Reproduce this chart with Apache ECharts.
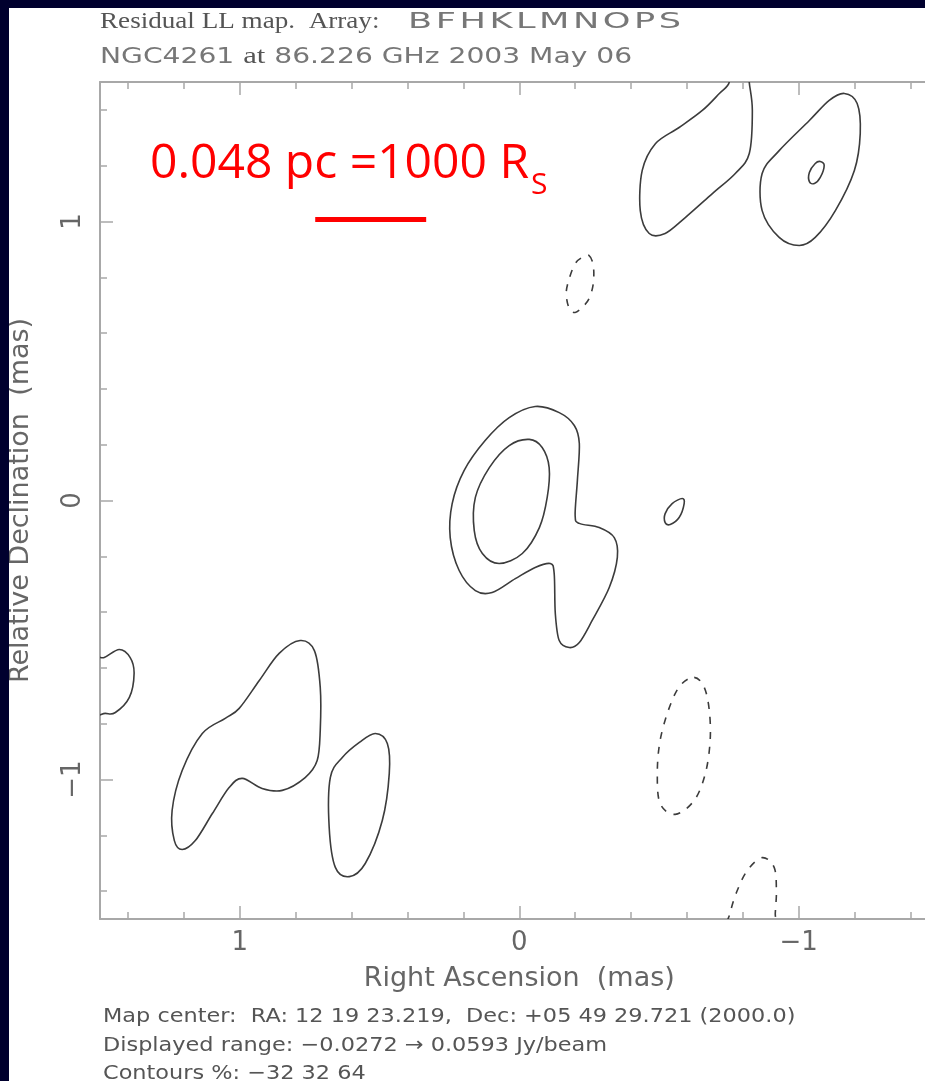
<!DOCTYPE html>
<html><head><meta charset="utf-8">
<script src="https://cdn.jsdelivr.net/npm/echarts@6/dist/echarts.min.js"></script>
<style>html,body{margin:0;padding:0;background:#fff;overflow:hidden}#c{width:925px;height:1081px}</style>
</head><body><div id="c"></div>
<script>
// ---- data (mas): relative RA (x), relative Dec (y) ----
const xRange = [-1.5, 1.5];
const yRange = [-1.5, 1.5];
const minorStep = 0.2;

// positive contours (solid)
const posCoreOuter = [[-0.057,0.337],[-0.143,0.315],[-0.197,0.269],[-0.215,0.204],[-0.208,0.072],[-0.200,-0.054],[-0.215,-0.082],[-0.286,-0.097],[-0.340,-0.133],[-0.351,-0.204],[-0.322,-0.312],[-0.261,-0.430],[-0.215,-0.509],[-0.179,-0.527],[-0.143,-0.502],[-0.129,-0.405],[-0.125,-0.262],[-0.111,-0.226],[-0.057,-0.240],[0.014,-0.280],[0.097,-0.330],[0.157,-0.323],[0.215,-0.251],[0.247,-0.133],[0.240,-0.011],[0.197,0.108],[0.122,0.215],[0.036,0.297]];
const posCoreInner = [[-0.036,0.219],[-0.082,0.190],[-0.107,0.118],[-0.100,0.011],[-0.072,-0.097],[-0.011,-0.190],[0.072,-0.226],[0.132,-0.190],[0.161,-0.108],[0.157,0.011],[0.107,0.118],[0.036,0.197]];
const posKnotWest = [[-0.583,0.007],[-0.590,-0.011],[-0.572,-0.061],[-0.540,-0.086],[-0.522,-0.079],[-0.522,-0.047],[-0.547,-0.011]];
const posEdgeEast = [[1.530,-0.573],[1.485,-0.563],[1.431,-0.534],[1.392,-0.563],[1.378,-0.620],[1.395,-0.706],[1.445,-0.760],[1.481,-0.763],[1.530,-0.756]];
const posSouthEastBlob = [[0.784,-0.502],[0.733,-0.538],[0.712,-0.670],[0.712,-0.824],[0.723,-0.932],[0.766,-0.993],[0.848,-1.039],[0.920,-1.032],[0.991,-0.996],[1.038,-1.029],[1.098,-1.122],[1.159,-1.219],[1.206,-1.251],[1.234,-1.219],[1.242,-1.111],[1.206,-0.968],[1.134,-0.835],[1.052,-0.781],[1.002,-0.745],[0.930,-0.645],[0.859,-0.548]];
const posSouthOval = [[0.515,-0.835],[0.472,-0.871],[0.465,-0.978],[0.490,-1.147],[0.551,-1.301],[0.608,-1.348],[0.658,-1.315],[0.680,-1.172],[0.676,-0.993],[0.633,-0.921],[0.572,-0.867]];
const posNorthWestA = [[-0.741,1.560],[-0.751,1.498],[-0.716,1.459],[-0.655,1.398],[-0.572,1.337],[-0.487,1.279],[-0.440,1.183],[-0.433,1.039],[-0.465,0.957],[-0.522,0.957],[-0.594,1.014],[-0.691,1.100],[-0.773,1.172],[-0.823,1.244],[-0.834,1.398],[-0.823,1.498],[-0.819,1.560]];
const posNorthWestB = [[-1.163,1.459],[-1.209,1.423],[-1.220,1.315],[-1.199,1.183],[-1.131,1.039],[-1.059,0.943],[-1.002,0.914],[-0.930,0.943],[-0.869,1.039],[-0.869,1.172],[-0.930,1.254],[-1.038,1.362],[-1.109,1.434]];
const posNorthWestPeak = [[-1.077,1.215],[-1.091,1.201],[-1.077,1.158],[-1.056,1.136],[-1.038,1.143],[-1.038,1.176],[-1.059,1.208]];

// negative contours (dashed)
const negNorthSmall = [[-0.250,0.878],[-0.265,0.842],[-0.265,0.778],[-0.250,0.724],[-0.225,0.692],[-0.200,0.674],[-0.179,0.688],[-0.168,0.742],[-0.179,0.796],[-0.200,0.849],[-0.225,0.871]];
const negWestOval = [[-0.626,-0.634],[-0.662,-0.670],[-0.680,-0.753],[-0.683,-0.860],[-0.666,-0.978],[-0.626,-1.075],[-0.558,-1.125],[-0.504,-1.086],[-0.494,-0.978],[-0.504,-0.860],[-0.537,-0.742],[-0.576,-0.663]];
const negSouthEdge = [[-0.744,-1.560],[-0.755,-1.477],[-0.780,-1.398],[-0.816,-1.326],[-0.869,-1.280],[-0.912,-1.315],[-0.920,-1.398],[-0.916,-1.480],[-0.912,-1.560]];

// scale bar (0.048 pc = 1000 Rs)
const scaleBarX = [0.730, 0.333];
const scaleBarY = 1.007;

// texts
const titleLine1a = 'Residual LL map.  Array:';
const titleLine1b = 'BFHKLMNOPS';
const titleLine2 = ['NGC4261 ', 'at', ' 86.226 GHz 2003 May 06'];
const footerLines = [
  'Map center:  RA: 12 19 23.219,  Dec: +05 49 29.721 (2000.0)',
  'Displayed range: \u22120.0272 \u2192 0.0593 Jy/beam',
  'Contours %: \u221232 32 64'
];
const scaleText = '0.048 pc =1000 R';
const scaleSub = 'S';

// ---- chart ----
const PX = 279.5, PY = 279;        // px per mas
const L = 100, T = 82;
const W = (xRange[1]-xRange[0])*PX, H = (yRange[1]-yRange[0])*PY;
const minorMax = 1.4, majorMax = 1;

const axisGray = '#a8a8a8';
const inkGray = '#3c3c3c';
const textGray = '#666';

function fmt(v){ return v === 0 ? '0' : (v < 0 ? '\u2212' + Math.abs(v) : String(v)); }

const grids = [
  {left:L, top:T, width:W, height:H},
  {left:L + (xRange[1]-minorMax)*PX, top:T, width:2*minorMax*PX, height:H},
  {left:L + (xRange[1]-majorMax)*PX, top:T, width:2*majorMax*PX, height:H},
  {left:L, top:T + (yRange[1]-minorMax)*PY, width:W, height:2*minorMax*PY},
  {left:L, top:T + (yRange[1]-majorMax)*PY, width:W, height:2*majorMax*PY}
].map(g => Object.assign({containLabel:false, outerBoundsMode:'none', show:false}, g));

const hidden = {show:false, min:0, max:1, type:'value'};
const frame = (pos) => ({axisLine:{show:true, onZero:false, lineStyle:{color:axisGray, width:2}}, axisTick:{show:false}, axisLabel:{show:false}, splitLine:{show:false}, position:pos});
const ticks = (pos, len, showLabel, extra) => Object.assign({
  position:pos, axisLine:{show:false}, splitLine:{show:false},
  axisTick:{show:true, inside:true, length:len, lineStyle:{color:axisGray, width:1.5}},
  axisLabel:{show:showLabel}
}, extra || {});

const labelStyle = {color:textGray, fontSize:26, fontFamily:'DejaVu Sans', formatter:fmt};

const xAxes = [
  Object.assign({type:'value', gridIndex:0, min:xRange[0], max:xRange[1], inverse:true,
    name:'Right Ascension  (mas)', nameLocation:'middle', nameGap:46,
    nameTextStyle:{color:textGray, fontSize:27, fontFamily:'DejaVu Sans', verticalAlign:'top'}}, frame('bottom')),
  Object.assign({type:'value', gridIndex:0, min:xRange[0], max:xRange[1], inverse:true}, frame('top')),
  ticks('bottom', 7, false, {type:'value', gridIndex:1, min:-minorMax, max:minorMax, interval:minorStep, inverse:true}),
  ticks('top', 7, false, {type:'value', gridIndex:1, min:-minorMax, max:minorMax, interval:minorStep, inverse:true}),
  ticks('bottom', 13, true, {type:'value', gridIndex:2, min:-majorMax, max:majorMax, interval:1, inverse:true, axisLabel:Object.assign({show:true, margin:11}, labelStyle)}),
  ticks('top', 13, false, {type:'value', gridIndex:2, min:-majorMax, max:majorMax, interval:1, inverse:true}),
  Object.assign({gridIndex:3}, hidden),
  Object.assign({gridIndex:4}, hidden)
];
const yAxes = [
  Object.assign({type:'value', gridIndex:0, min:yRange[0], max:yRange[1],
    name:'Relative Declination  (mas)', nameLocation:'middle', nameGap:66,
    nameTextStyle:{color:textGray, fontSize:27, fontFamily:'DejaVu Sans'}}, frame('left')),
  Object.assign({type:'value', gridIndex:0, min:yRange[0], max:yRange[1]}, frame('right')),
  Object.assign({gridIndex:1}, hidden),
  Object.assign({gridIndex:2}, hidden),
  ticks('left', 7, false, {type:'value', gridIndex:3, min:-minorMax, max:minorMax, interval:minorStep}),
  ticks('right', 7, false, {type:'value', gridIndex:3, min:-minorMax, max:minorMax, interval:minorStep}),
  ticks('left', 13, true, {type:'value', gridIndex:4, min:-majorMax, max:majorMax, interval:1, axisLabel:Object.assign({show:true, margin:14, rotate:90}, labelStyle)}),
  ticks('right', 13, false, {type:'value', gridIndex:4, min:-majorMax, max:majorMax, interval:1})
];

// closed smooth curve (Catmull-Rom -> cubic Bezier) through the pixel positions of the data points
function closedPath(px) {
  const n = px.length;
  let d = 'M' + px[0][0].toFixed(2) + ' ' + px[0][1].toFixed(2);
  for (let i = 0; i < n; i++) {
    const p0 = px[(i - 1 + n) % n], p1 = px[i], p2 = px[(i + 1) % n], p3 = px[(i + 2) % n];
    const c1 = [p1[0] + (p2[0] - p0[0]) / 6, p1[1] + (p2[1] - p0[1]) / 6];
    const c2 = [p2[0] - (p3[0] - p1[0]) / 6, p2[1] - (p3[1] - p1[1]) / 6];
    d += ' C' + c1[0].toFixed(2) + ' ' + c1[1].toFixed(2) + ' ' + c2[0].toFixed(2) + ' ' + c2[1].toFixed(2) + ' ' + p2[0].toFixed(2) + ' ' + p2[1].toFixed(2);
  }
  return d + ' Z';
}

function contour(name, pts, dashed) {
  return {
    type:'custom', name, coordinateSystem:'cartesian2d', xAxisIndex:0, yAxisIndex:0,
    data: pts, silent:true, animation:false,
    renderItem: function (params, api) {
      if (params.dataIndex !== 0) return null;
      const px = pts.map(p => api.coord(p));
      const cs = params.coordSys;
      return {
        type:'path',
        shape:{pathData: closedPath(px)},
        style:{fill:'none', stroke:inkGray, lineWidth:1.6, lineDash: dashed ? [7, 8] : null},
        clipPath:{type:'rect', shape:{x:cs.x, y:cs.y, width:cs.width, height:cs.height}}
      };
    }
  };
}

const series = [
  contour('posCoreOuter', posCoreOuter),
  contour('posCoreInner', posCoreInner),
  contour('posKnotWest', posKnotWest),
  contour('posEdgeEast', posEdgeEast),
  contour('posSouthEastBlob', posSouthEastBlob),
  contour('posSouthOval', posSouthOval),
  contour('posNorthWestA', posNorthWestA),
  contour('posNorthWestB', posNorthWestB),
  contour('posNorthWestPeak', posNorthWestPeak),
  contour('negNorthSmall', negNorthSmall, true),
  contour('negWestOval', negWestOval, true),
  contour('negSouthEdge', negSouthEdge, true),
  {type:'line', name:'scaleBar', xAxisIndex:0, yAxisIndex:0, symbol:'none', silent:true, animation:false,
   data: scaleBarX.map(x => [x, scaleBarY]), lineStyle:{color:'#ff0000', width:5}}
];

const navy = '#00002e';
const graphic = [
  {type:'rect', shape:{x:0, y:0, width:925, height:8}, style:{fill:navy}, z:100},
  {type:'rect', shape:{x:0, y:0, width:9, height:1081}, style:{fill:navy}, z:100},
  {type:'text', x:100, y:22, scaleX:1.13, style:{text:titleLine1a, font:'24px "Liberation Serif"', fill:'#555', align:'left', verticalAlign:'middle'}},
  {type:'text', x:408, y:22, scaleX:1.6, style:{text:titleLine1b.split('').join('\u200A'), font:'22px "DejaVu Sans"', fill:'#777', align:'left', verticalAlign:'middle'}},
  {type:'text', x:100, y:57, scaleX:1.28, style:{
    text:'{s|' + titleLine2[0] + '}{r|' + titleLine2[1] + '}{s|' + titleLine2[2] + '}',
    align:'left', verticalAlign:'middle',
    rich:{s:{font:'22px "DejaVu Sans"', fill:'#777'}, r:{font:'24px "Liberation Serif"', fill:'#555'}}}},
  {type:'text', x:150, y:164, style:{text:scaleText, font:'48px "Open Sans"', fill:'#ff0000', align:'left', verticalAlign:'middle'}},
  {type:'text', x:531, y:185, style:{text:scaleSub, font:'30px "Open Sans"', fill:'#ff0000', align:'left', verticalAlign:'middle'}}
].concat(footerLines.map((t, i) => ({type:'text', x:103, y:1017 + i*28.5, scaleX:1.12, style:{text:t, font:'20px "DejaVu Sans"', fill:'#555', align:'left', verticalAlign:'middle'}})));

const chart = echarts.init(document.getElementById('c'), null, {renderer:'canvas'});
chart.setOption({
  backgroundColor:'#ffffff',
  animation:false,
  grid:grids, xAxis:xAxes, yAxis:yAxes, series, graphic
});
</script></body></html>
